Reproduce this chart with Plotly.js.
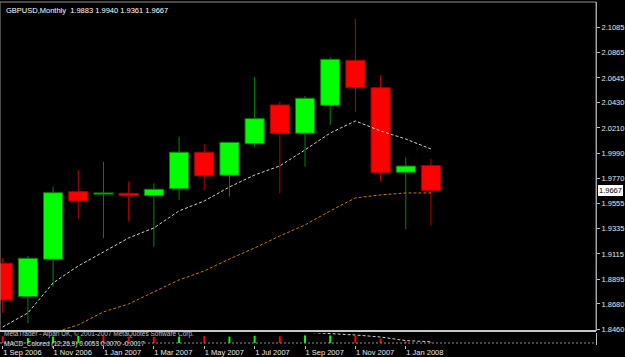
<!DOCTYPE html>
<html>
<head>
<meta charset="utf-8">
<script src="https://cdn.plot.ly/plotly-3.0.1.min.js"></script>
<style>html,body{margin:0;padding:0;background:#000;}#chart{width:625px;height:357px;}</style>
</head>
<body>
<div id="chart"></div>
<script>
// ---- data (GBPUSD monthly) ----
var months = ['Sep 2006','Oct 2006','Nov 2006','Dec 2006','Jan 2007','Feb 2007','Mar 2007','Apr 2007','May 2007','Jun 2007','Jul 2007','Aug 2007','Sep 2007','Oct 2007','Nov 2007','Dec 2007','Jan 2008','Feb 2008'];
var openP  = [1.9034,1.8744,1.9069,1.9656,1.9635,1.9642,1.9621,1.9682,1.9999,1.9799,2.0073,2.0410,2.0164,2.0407,2.0798,2.0560,1.9825,1.9883];
var highP  = [1.9080,1.9097,1.9700,1.9845,1.9917,1.9743,1.9729,2.0134,2.0071,2.0090,2.0653,2.0440,2.0488,2.0824,2.1157,2.0670,1.9955,1.9940];
var lowP   = [1.8602,1.8512,1.8830,1.9419,1.9251,1.9396,1.9178,1.9584,1.9671,1.9613,2.0047,1.9642,1.9873,2.0236,2.0351,1.9743,1.9329,1.9361];
var closeP = [1.8715,1.9077,1.9647,1.9575,1.9645,1.9621,1.9677,1.9999,1.9793,2.0085,2.0291,2.0164,2.0468,2.0807,2.0560,1.9821,1.9879,1.9667];
var maFast = [1.8480,1.8602,1.8863,1.9011,1.9132,1.9254,1.9341,1.9489,1.9575,1.9697,1.9801,1.9880,2.0019,2.0166,2.0271,2.0184,2.0114,2.0027];
var maSlow = [null,null,1.8430,1.8498,1.8611,1.8680,1.8785,1.8889,1.8967,1.9071,1.9167,1.9271,1.9367,1.9489,1.9602,1.9628,1.9645,1.9645];
var macdHist = [0.85,0.6,0.8,0.9,0.85,0.8,0.75,0.8,0.85,0.8,0.9,0.85,0.95,0.95,0.9,0.55,0.2,0.1];
var macdUp   = [false,true,true,true,false,false,false,true,false,true,true,false,true,true,false,false,false,false];
var macdSig  = [1.6,1.6,1.6,1.6,1.6,1.6,1.6,1.6,1.6,1.6,1.6,1.5,1.35,1.2,1.0,0.75,0.3,0.15];
var xTickIdx    = [0,2,4,6,8,10,12,14,16];
var xTickLabels = ['1 Sep 2006','1 Nov 2006','1 Jan 2007','1 Mar 2007','1 May 2007','1 Jul 2007','1 Sep 2007','1 Nov 2007','1 Jan 2008'];
var yTickVals = [2.1085,2.0865,2.0645,2.0430,2.0210,1.9990,1.9770,1.9555,1.9335,1.9115,1.8895,1.8680,1.8460];
var yTickText = ['2.1085','2.0865','2.0645','2.0430','2.0210','1.9990','1.9770','1.9555','1.9335','1.9115','1.8895','1.8680','1.8460'];
var symbol = 'GBPUSD,Monthly';
var lastPrice = 1.9667;

// ---- build traces ----
var idx = months.map(function(_, i){ return i; });
var FONT = 'Liberation Sans, Arial, sans-serif';

function wickTrace(up, color){
  var xs = [], ys = [];
  idx.forEach(function(i){
    var isUp = closeP[i] >= openP[i];
    if (isUp !== up) return;
    var top = Math.max(openP[i], closeP[i]), bot = Math.min(openP[i], closeP[i]);
    xs.push(i, i, null, i, i, null);
    ys.push(highP[i], top, null, bot, lowP[i], null);
  });
  return {type:'scatter', mode:'lines', x:xs, y:ys, xaxis:'x', yaxis:'y',
          line:{color:color, width:1}, hoverinfo:'skip', showlegend:false};
}
function bodyTrace(up, fill, edge){
  var xs = [], base = [], h = [];
  idx.forEach(function(i){
    var isUp = closeP[i] >= openP[i];
    if (isUp !== up) return;
    xs.push(i);
    base.push(Math.min(openP[i], closeP[i]));
    h.push(Math.max(Math.abs(closeP[i]-openP[i]), 0.0009));
  });
  return {type:'bar', x:xs, y:h, base:base, width:0.76, xaxis:'x', yaxis:'y',
          marker:{color:fill, line:{color:edge, width:1}}, hoverinfo:'skip', showlegend:false};
}

var traces = [
  bodyTrace(true, '#00ff00', '#008000'),
  bodyTrace(false, '#ff0000', '#a00000'),
  wickTrace(true, '#008800'),
  wickTrace(false, '#c00000'),
  {type:'scatter', mode:'lines', x:idx, y:maFast, xaxis:'x', yaxis:'y',
   line:{color:'#d0d0d0', width:1, dash:'3px,2px'}, hoverinfo:'skip', showlegend:false},
  {type:'scatter', mode:'lines', x:idx, y:maSlow, xaxis:'x', yaxis:'y', connectgaps:false,
   line:{color:'#c8780a', width:1, dash:'3px,2px'}, hoverinfo:'skip', showlegend:false},
  {type:'bar', x:idx, y:macdHist, width:0.08, xaxis:'x', yaxis:'y2',
   marker:{color:idx.map(function(i){ return macdUp[i] ? '#00ff00' : '#ff0000'; })},
   hoverinfo:'skip', showlegend:false},
  {type:'scatter', mode:'lines', x:idx, y:macdSig, xaxis:'x', yaxis:'y2',
   line:{color:'#d0d0d0', width:1, dash:'3px,2px'}, hoverinfo:'skip', showlegend:false}
];

// ---- layout ----
var H = 357, T = 2, B = 12;
var plotH = H - T - B;               // 343
var mainBottom = (345 - 331) / plotH; // domain fraction
var subTop = (345 - 333) / plotH;

var ohlcText = symbol + '  ' + [openP[17],highP[17],lowP[17],closeP[17]].map(function(v){return v.toFixed(4);}).join(' ');

var layout = {
  width:625, height:357,
  margin:{l:0, r:29, t:T, b:B, pad:0},
  paper_bgcolor:'#000000', plot_bgcolor:'#000000',
  barmode:'overlay', showlegend:false,
  font:{family:FONT, size:7.5, color:'#e0e0e0'},
  xaxis:{type:'linear', range:[-0.107, 23.55], anchor:'y2', showgrid:false, zeroline:false,
         showline:false, ticks:'outside', ticklen:3, tickcolor:'#c0c0c0',
         tickvals:xTickIdx, ticktext:xTickLabels, ticklabelposition:'outside right',
         tickfont:{family:FONT, size:7.5, color:'#e8e8e8'}, fixedrange:true},
  yaxis:{domain:[mainBottom, 1], range:[1.8445, 2.1305], side:'right', anchor:'x',
         showgrid:false, zeroline:false, showline:true, linecolor:'#c0c0c0', linewidth:1,
         ticks:'outside', ticklen:3, tickcolor:'#c0c0c0',
         tickvals:yTickVals, ticktext:yTickText,
         tickfont:{family:FONT, size:7.5, color:'#e8e8e8'}, fixedrange:true},
  yaxis2:{domain:[0, subTop], range:[-0.25, 1.25], side:'right', anchor:'x',
          showgrid:false, zeroline:false, showline:true, linecolor:'#c0c0c0', linewidth:1,
          showticklabels:false, ticks:'', fixedrange:true},
  shapes:[
    {type:'rect', xref:'paper', yref:'paper', x0:0, x1:1, y0:mainBottom, y1:1,
     line:{color:'#909090', width:1}},
    {type:'line', xref:'paper', yref:'paper', x0:0, x1:1, y0:mainBottom, y1:mainBottom,
     line:{color:'#c8c8c8', width:2}},
    {type:'line', xref:'paper', yref:'y2', x0:0, x1:1, y0:0, y1:0,
     line:{color:'#909090', width:1, dash:'2px,2px'}}
  ],
  annotations:[
    {xref:'paper', yref:'paper', x:0, y:1, xanchor:'left', yanchor:'top', xshift:4, yshift:-2,
     text:ohlcText, showarrow:false, font:{family:FONT, size:7.5, color:'#ffffff'}},
    {xref:'paper', yref:'y', x:1, y:lastPrice, xanchor:'left', yanchor:'middle', xshift:1,
     text:lastPrice.toFixed(4), showarrow:false, bgcolor:'#ffffff', bordercolor:'#000000',
     borderpad:1, font:{family:FONT, size:7.5, color:'#000000'}},
    {xref:'paper', yref:'paper', x:0, y:subTop, xanchor:'left', yanchor:'bottom', xshift:3, yshift:-6,
     text:'MetaTrader - Alpari UK, © 2001-2007 MetaQuotes Software Corp.', showarrow:false,
     borderpad:0, font:{family:FONT, size:6.5, color:'#c0c0c0'}},
    {xref:'paper', yref:'paper', x:0, y:subTop, xanchor:'left', yanchor:'top', xshift:3, yshift:-6,
     text:'MACD_Colored (12,26,9) 0.0053 0.0070 -0.0017', showarrow:false,
     borderpad:0, font:{family:FONT, size:6.5, color:'#e0e0e0'}}
  ]
};

Plotly.newPlot('chart', traces, layout, {displayModeBar:false, staticPlot:true});
</script>
</body>
</html>
